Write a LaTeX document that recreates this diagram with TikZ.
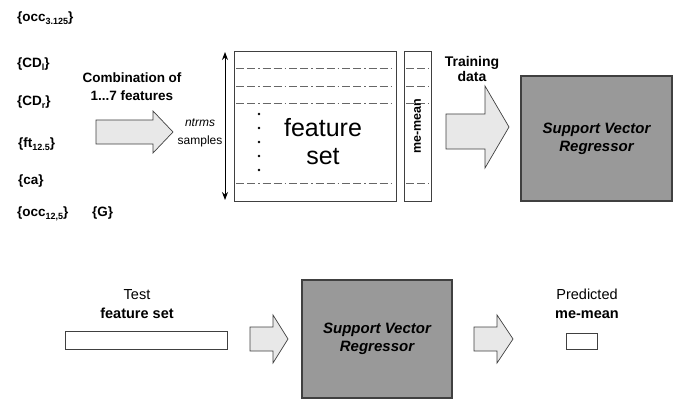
\documentclass[tikz,border=0pt]{standalone}
\usepackage{fontspec}
\setmainfont{Liberation Sans}
\usepackage{tikz}
\usetikzlibrary{arrows.meta}
\definecolor{svrgray}{HTML}{999999}
\definecolor{arrowfill}{HTML}{E8E8E8}
\definecolor{edgegray}{HTML}{404040}

\tikzset{
  lbl/.style={anchor=west, inner sep=0pt, font=\fontsize{13.5}{15}\selectfont\bfseries},
  plain/.style={inner sep=0pt, align=center},
  databox/.style={draw=edgegray, line width=0.8pt, inner sep=0pt, outer sep=0pt},
  svrbox/.style={draw=edgegray, fill=svrgray, line width=1.2pt, inner sep=0pt,
    outer sep=0pt, align=center, font=\fontsize{15}{18}\selectfont\bfseries\itshape},
  blockarrow/.style={draw=edgegray, fill=arrowfill, line width=0.7pt, line join=miter},
  rowline/.style={black!60, line width=0.8pt,
    dash pattern=on 8pt off 3pt on 8pt off 3pt on 1.5pt off 3pt}
}
\newcommand{\low}[1]{\raisebox{-0.45ex}{\fontsize{9}{9}\selectfont #1}}

\begin{document}
\begin{tikzpicture}[x=1pt, y=-1pt]
        \useasboundingbox (0,0) rectangle (685,401);

        % Candidate features
        \node[lbl] (occa) at (17,18) {\{occ\low{3.125}\}};
        \node[lbl] (cdl) at (17,64) {\{CD\low{l}\}};
        \node[lbl] (cdr) at (17,102) {\{CD\low{r}\}};
        \node[lbl] (ft) at (18,144) {\{ft\low{12.5}\}};
        \node[lbl] (ca) at (18,181) {\{ca\}};
        \node[lbl] (occb) at (17,214) {\{occ\low{12,5}\}};
        \node[lbl] (g) at (92,213) {\{G\}};

        % Combination arrow
        \node[plain, font=\fontsize{13.5}{18}\selectfont\bfseries] (comb) at (132,87)
          {Combination of\\1...7 features};
        \filldraw[blockarrow] (96,120)--(153,120)--(153,111)--(173,132)
          --(153,153)--(153,144)--(96,144)--cycle;

        % Sample count
        \node[plain, font=\fontsize{12}{18}\selectfont] (ntrms) at (200,133)
          {\textit{ntrms}\\samples};
        \draw[{Stealth[length=8pt,width=6pt]}-{Stealth[length=8pt,width=6pt]},
          line width=0.8pt] (225,52)--(225,200);

        % Training feature set and target column
        \node[databox, minimum width=162pt, minimum height=150pt] (fset) at (315,126) {};
        \node[databox, minimum width=27pt, minimum height=150pt] (mmcol) at (417.5,126) {};
        \foreach \y in {68,86,103,183} {
          \draw[rowline] (236,\y)--(394,\y);
          \draw[rowline] (406,\y)--(429,\y);
        }
        \foreach \y in {114,128,142,156,170}
          \fill (259,\y) circle (1.3pt);
        \node[plain, font=\fontsize{25}{28}\selectfont] (fstext) at (323,142)
          {feature\\set};
        \node[plain, rotate=90, font=\fontsize{12.5}{15}\selectfont\bfseries] (mmtext)
          at (mmcol) {me-mean};

        % Training arrow
        \node[plain, font=\fontsize{14}{15}\selectfont\bfseries] (train) at (472,69)
          {Training\\data};
        \filldraw[blockarrow] (446,114)--(485,114)--(485,86)--(509,127)
          --(485,168)--(485,149)--(446,149)--cycle;

        % Regressor (training)
        \node[svrbox, minimum width=151pt, minimum height=125pt] (svra) at (596.5,138.5)
          {Support Vector\\Regressor};

        % Test stage
        \node[plain, font=\fontsize{14.5}{19}\selectfont] (test) at (137,304)
          {Test\\\textbf{feature set}};
        \node[databox, minimum width=162pt, minimum height=18pt] (testbox) at (146,340) {};
        \filldraw[blockarrow] (250,327)--(273,327)--(273,315)--(288,339)
          --(273,363)--(273,351)--(250,351)--cycle;

        % Regressor (test)
        \node[svrbox, minimum width=150pt, minimum height=118pt] (svrb) at (377,339)
          {Support Vector\\Regressor};

        % Prediction
        \filldraw[blockarrow] (474,327)--(497,327)--(497,315)--(513,339)
          --(497,363)--(497,351)--(474,351)--cycle;
        \node[plain, font=\fontsize{14.5}{19}\selectfont] (pred) at (587,304)
          {Predicted\\\textbf{me-mean}};
        \node[databox, minimum width=31pt, minimum height=16pt] (predbox) at (581.5,341) {};

\end{tikzpicture}
\end{document}
